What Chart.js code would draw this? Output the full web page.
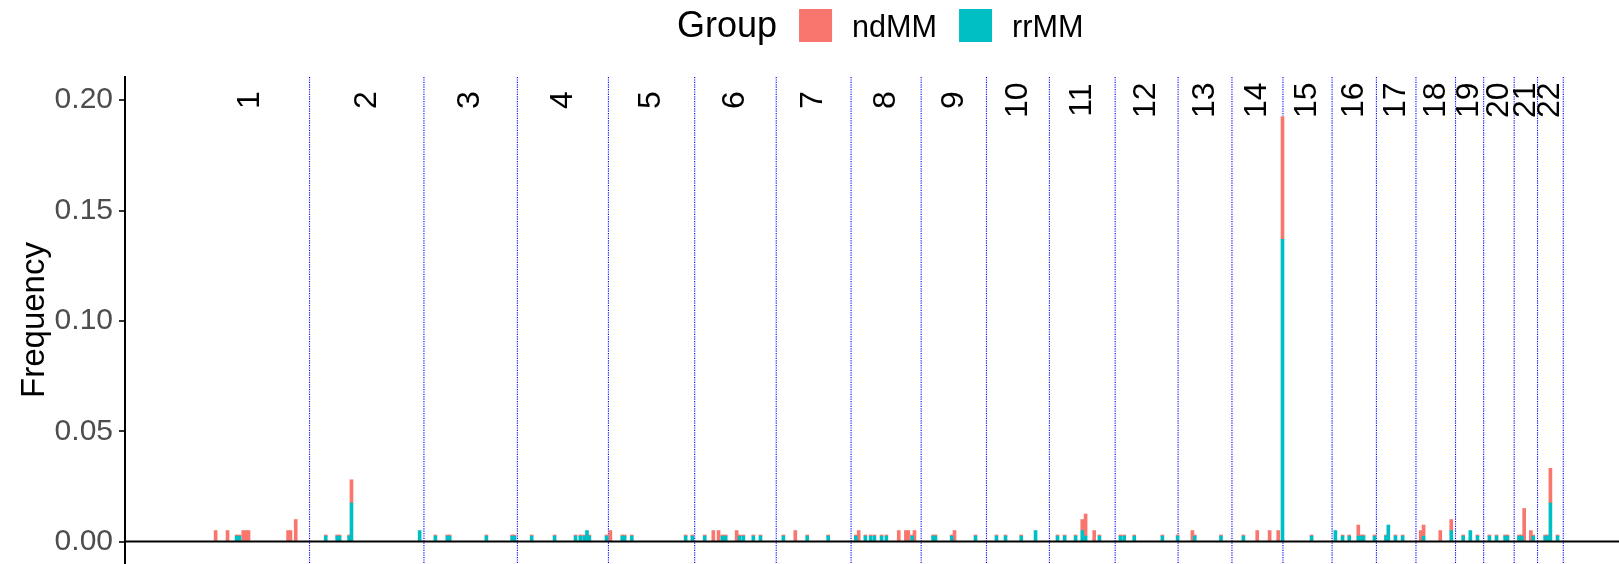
<!DOCTYPE html>
<html>
<head>
<meta charset="utf-8">
<title>Frequency by chromosome</title>
<script src="https://cdn.jsdelivr.net/npm/chart.js@4.4.1/dist/chart.umd.min.js"></script>
<style>
  html, body { margin: 0; padding: 0; background: #ffffff; }
  canvas { display: block; }
</style>
</head>
<body>
<canvas id="chart" width="1619" height="564"></canvas>
<script>
// Chromosomes and their lengths (Mb) laid end to end along the x axis
const chromosomes = ['1','2','3','4','5','6','7','8','9','10','11','12','13','14','15','16','17','18','19','20','21','22'];
const chromLengthMb = [247, 240, 196, 191, 181, 171, 157, 147, 137, 132, 138, 132, 113, 107, 103, 93, 83, 83, 59, 64, 49, 54];

// Y axis tick values
const yTickValues = [0, 0.05, 0.10, 0.15, 0.20];

// Group names
const groupNames = ['ndMM', 'rrMM'];

// Altered bins: chromosome, position within the chromosome (Mb), frequency per group
const binChrom = [
  1,1,1,1,1,1,1,1,1,1,
  2,2,2,2,2,2,
  3,3,3,3,3,3,
  4,4,4,4,4,4,4,4,
  5,5,5,5,5,5,
  6,6,6,6,6,6,6,6,6,6,
  7,7,7,7,
  8,8,8,8,8,8,8,8,8,8,8,8,
  9,9,9,9,9,
  10,10,10,10,
  11,11,11,11,11,11,11,
  12,12,12,12,12,
  13,13,13,
  14,14,14,14,14,
  15,
  16,16,16,16,16,16,16,
  17,17,17,17,
  18,18,18,18,
  19,19,19,
  20,20,20,20,
  21,21,21,21,21,
  22,22,22,22
];
const binPosMb = [
  50,75,94,100,108,114,119,202,207,218,
  34,58,63,83,88,231,
  24,49,54,131,185,190,
  30,78,122,132,140,146,151,187,
  4,29,34,49,162,176,
  21,39,50,58,65,88,94,102,123,138,
  15,40,65,109,
  10,16,30,41,49,64,74,100,115,120,128,133,
  25,30,64,70,114,
  21,40,73,103,
  17,32,55,69,76,94,105,
  11,19,40,99,131,
  30,35,90,
  24,53,79,97,106,
  60,
  7,22,36,55,61,66,89,
  20,25,40,55,
  10,16,51,74,
  16,31,46,
  12,27,45,50,
  10,16,21,35,40,
  16,21,27,42
];
const ndMM = [
  0.005,0.005,0.0005,0.0005,0.005,0.005,0.005,0.005,0.005,0.01,
  0.0005,0.0005,0.0005,0.0005,0.0105,0,
  0.0005,0.0005,0.0005,0.0005,0.0005,0.0005,
  0.0005,0.0005,0.0005,0.0005,0.0005,0,0.0005,0.0005,
  0.005,0.0005,0.0005,0.0005,0.0005,0.0005,
  0.0005,0.005,0.005,0.0005,0.0005,0.005,0.0005,0.0005,0.0005,0.0005,
  0.0005,0.005,0.0005,0.0005,
  0.0005,0.005,0.0005,0.0005,0.0005,0.0005,0.0005,0.005,0.005,0.005,0.0005,0.005,
  0.0005,0.0005,0.0005,0.005,0.0005,
  0.0005,0.0005,0.0005,0,
  0.0005,0.0005,0.0005,0.005,0.01,0.005,0.0005,
  0.0005,0.0005,0.0005,0.0005,0.0005,
  0.005,0.0005,0.0005,
  0.0005,0.005,0.005,0.005,0.0555,
  0.0005,
  0,0.0005,0.0005,0.005,0.0005,0.0005,0.0005,
  0.0005,0,0.0005,0.0005,
  0.005,0.005,0.005,0.005,
  0.0005,0,0.0005,
  0.0005,0.0005,0.0005,0.0005,
  0.0005,0.0005,0.015,0.005,0.0005,
  0.0005,0.0005,0.0157,0.0005
];
const rrMM = [
  0,0,0.0025,0.0025,0,0,0,0,0,0,
  0.0025,0.0025,0.0025,0.0025,0.0175,0.005,
  0.0025,0.0025,0.0025,0.0025,0.0025,0.0025,
  0.0025,0.0025,0.0025,0.0025,0.0025,0.005,0.0025,0.0025,
  0,0.0025,0.0025,0.0025,0.0025,0.0025,
  0.0025,0,0,0.0025,0.0025,0,0.0025,0.0025,0.0025,0.0025,
  0.0025,0,0.0025,0.0025,
  0.0025,0,0.0025,0.0025,0.0025,0.0025,0.0025,0,0,0,0.0025,0,
  0.0025,0.0025,0.0025,0,0.0025,
  0.0025,0.0025,0.0025,0.005,
  0.0025,0.0025,0.0025,0.005,0.0025,0,0.0025,
  0.0025,0.0025,0.0025,0.0025,0.0025,
  0,0.0025,0.0025,
  0.0025,0,0,0,0.137,
  0.0025,
  0.005,0.0025,0.0025,0.0025,0.0025,0.0025,0.0025,
  0.0025,0.0075,0.0025,0.0025,
  0,0.0025,0,0.005,
  0.0025,0.005,0.0025,
  0.0025,0.0025,0.0025,0.0025,
  0.0025,0.0025,0,0,0.0025,
  0.0025,0.0025,0.0175,0.0025
];

// Height at which the chromosome names sit
const chromLabelY = 0.2;

const FONT = '"Liberation Sans", Arial, Helvetica, sans-serif';
const COLORS = { ndMM: '#F8766D', rrMM: '#00BFC4' };

// Cumulative genome coordinates
const chromStart = [];
let total = 0;
chromLengthMb.forEach(len => { chromStart.push(total); total += len; });
const chromEnd = chromStart.map((s, i) => s + chromLengthMb[i]);
const chromMid = chromStart.map((s, i) => s + chromLengthMb[i] / 2);
const genomePos = binChrom.map((c, i) => chromStart[c - 1] + binPosMb[i]);

const toPoints = values => values
  .map((v, i) => ({ x: genomePos[i], y: v }))
  .filter(p => p.y > 0);

// Chromosome separators, zero line, chromosome names and the legend row
const genomeDecor = {
  id: 'genomeDecor',
  beforeDatasetsDraw(chart) {
    const { ctx, chartArea: a, scales: { x } } = chart;
    ctx.save();
    ctx.strokeStyle = '#0000FF';
    ctx.lineWidth = 1.1;
    ctx.setLineDash([1.2, 1.2]);
    chromEnd.forEach(e => {
      const px = x.getPixelForValue(e);
      ctx.beginPath();
      ctx.moveTo(px, a.top);
      ctx.lineTo(px, a.bottom);
      ctx.stroke();
    });
    ctx.restore();
  },
  afterDatasetsDraw(chart) {
    const { ctx, chartArea: a, scales: { x, y } } = chart;
    ctx.save();
    const y0 = y.getPixelForValue(0);
    ctx.strokeStyle = '#000000';
    ctx.lineWidth = 2;
    ctx.beginPath();
    ctx.moveTo(a.left, y0);
    ctx.lineTo(a.right, y0);
    ctx.stroke();

    ctx.fillStyle = '#000000';
    ctx.font = '32px ' + FONT;
    ctx.textAlign = 'center';
    ctx.textBaseline = 'middle';
    const ly = y.getPixelForValue(chromLabelY);
    chromosomes.forEach((name, i) => {
      ctx.save();
      ctx.translate(x.getPixelForValue(chromMid[i]), ly);
      ctx.rotate(-Math.PI / 2);
      ctx.fillText(name, 0, 0);
      ctx.restore();
    });
    ctx.restore();
  },
  afterDraw(chart) {
    const { ctx } = chart;
    ctx.save();
    ctx.fillStyle = '#000000';
    ctx.textAlign = 'left';
    ctx.textBaseline = 'alphabetic';
    const baseline = 37;
    let cx = 677;
    ctx.font = '36px ' + FONT;
    ctx.fillText('Group', cx, baseline);
    cx += ctx.measureText('Group').width + 22;
    groupNames.forEach(name => {
      ctx.fillStyle = COLORS[name];
      ctx.fillRect(cx, 9, 33, 33);
      cx += 33 + 20;
      ctx.fillStyle = '#000000';
      ctx.font = '30.6px ' + FONT;
      ctx.fillText(name, cx, baseline);
      cx += ctx.measureText(name).width + 22;
    });
    ctx.restore();
  }
};

new Chart(document.getElementById('chart'), {
  type: 'bar',
  data: {
    datasets: [
      { label: 'rrMM', data: toPoints(rrMM), backgroundColor: COLORS.rrMM },
      { label: 'ndMM', data: toPoints(ndMM), backgroundColor: COLORS.ndMM }
    ]
  },
  options: {
    responsive: false,
    animation: false,
    devicePixelRatio: 1,
    layout: { padding: { top: 77, bottom: 1, left: 0, right: 0 } },
    datasets: { bar: { barThickness: 3, borderWidth: 0 } },
    plugins: {
      legend: { display: false },
      tooltip: { enabled: false }
    },
    scales: {
      x: {
        type: 'linear',
        stacked: true,
        offset: false,
        min: -140.1,
        max: 2993.9,
        display: false
      },
      y: {
        stacked: true,
        min: -0.0097,
        max: 0.2105,
        afterBuildTicks: s => { s.ticks = yTickValues.map(v => ({ value: v })); },
        afterFit: s => { s.width = 125; s.paddingTop = 0; s.paddingBottom = 0; },
        ticks: {
          callback: v => Number(v).toFixed(2),
          font: { size: 30, family: FONT },
          color: '#4D4D4D',
          padding: 6
        },
        grid: {
          drawOnChartArea: false,
          drawTicks: true,
          tickLength: 6,
          color: '#333333',
          lineWidth: 2
        },
        border: { display: true, color: '#000000', width: 2 },
        title: {
          display: true,
          text: 'Frequency',
          color: '#000000',
          font: { size: 33, family: FONT },
          padding: { top: 15, bottom: 0 }
        }
      }
    }
  },
  plugins: [genomeDecor]
});
</script>
</body>
</html>
